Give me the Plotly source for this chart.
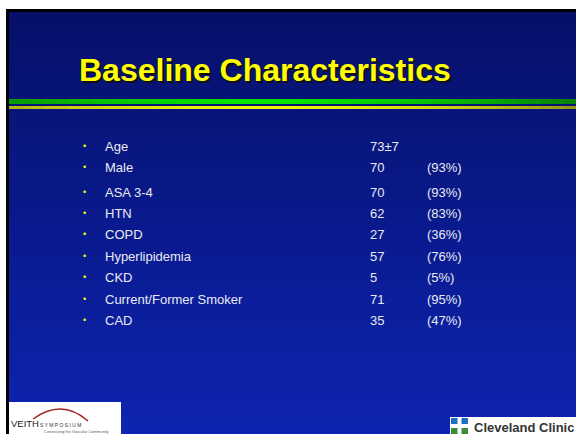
import plotly.graph_objects as go

# ---- data ----
labels = ["Age", "Male", "ASA 3-4", "HTN", "COPD", "Hyperlipidemia", "CKD",
          "Current/Former Smoker", "CAD"]
counts = ["73±7", "70", "70", "62", "27", "57", "5", "71", "35"]
percents = ["", "(93%)", "(93%)", "(83%)", "(36%)", "(76%)", "(5%)", "(95%)", "(47%)"]
row_y = [146, 167, 192, 213, 234, 256, 277, 299, 320]
title = "Baseline Characteristics"

W, H = 576, 434
fig = go.Figure()
shapes = []
ann = []

def lerp(a, b, t):
    return tuple(int(round(a[k] + (b[k] - a[k]) * t)) for k in range(3))

# background gradient (navy -> brighter blue)
x0, y0 = 9, 12
n = 50
top = (6, 16, 106)
bot = (13, 36, 176)
for i in range(n):
    t = i / (n - 1)
    c = lerp(top, bot, t)
    ya = y0 + (H - y0) * i / n
    yb = y0 + (H - y0) * (i + 1) / n + 1.5
    shapes.append(dict(type="rect", x0=x0, x1=W + 2, y0=ya, y1=min(yb, H + 2), line_width=0,
                       fillcolor="rgb(%d,%d,%d)" % c, layer="below"))
# black border
shapes.append(dict(type="rect", x0=6, x1=9, y0=9, y1=H + 2, line_width=0, fillcolor="black", layer="below"))
shapes.append(dict(type="rect", x0=6, x1=W + 2, y0=9, y1=12, line_width=0, fillcolor="black", layer="below"))

# green / yellow gradient bars
segs = 48
for i in range(segs):
    t = i / (segs - 1)
    d = abs(t - 0.45) / 0.55
    g = lerp((0, 230, 0), (10, 130, 10), min(1, d) ** 1.5)
    yl = lerp((240, 240, 0), (150, 150, 20), min(1, d) ** 2)
    xa = 9 + (W - 9) * i / segs
    xb = 9 + (W - 9) * (i + 1) / segs + 1.5
    shapes.append(dict(type="rect", x0=xa, x1=xb, y0=99, y1=104, line_width=0,
                       fillcolor="rgb(%d,%d,%d)" % g, layer="below"))
    shapes.append(dict(type="rect", x0=xa, x1=xb, y0=106, y1=109, line_width=0,
                       fillcolor="rgb(%d,%d,%d)" % yl, layer="below"))

# title with shadow
tx, ty = 265, 70
ann.append(dict(x=tx + 2, y=ty + 2, text="<b>%s</b>" % title, showarrow=False,
                xanchor="center", yanchor="middle",
                font=dict(family="Liberation Sans, Arial", size=32, color="#101010")))
ann.append(dict(x=tx, y=ty, text="<b>%s</b>" % title, showarrow=False,
                xanchor="center", yanchor="middle",
                font=dict(family="Liberation Sans, Arial", size=32, color="#FFFF00")))

# list
txtc = "#EAEAF2"
for lab, cnt, pct, yy in zip(labels, counts, percents, row_y):
    ann.append(dict(x=84, y=yy, text="•", showarrow=False, xanchor="center", yanchor="middle",
                    font=dict(family="Liberation Sans, Arial", size=9, color="#FFFF00")))
    ann.append(dict(x=103, y=yy, text=lab, showarrow=False, xanchor="left", yanchor="middle",
                    font=dict(family="Liberation Sans, Arial", size=13, color=txtc)))
    ann.append(dict(x=368, y=yy, text=cnt, showarrow=False, xanchor="left", yanchor="middle",
                    font=dict(family="Liberation Sans, Arial", size=13, color=txtc)))
    if pct:
        ann.append(dict(x=425, y=yy, text=pct, showarrow=False, xanchor="left", yanchor="middle",
                        font=dict(family="Liberation Sans, Arial", size=13, color=txtc)))

# Veith logo
shapes.append(dict(type="rect", x0=9, x1=121, y0=402, y1=H + 2, line_width=0, fillcolor="white", layer="above"))
shapes.append(dict(type="path", path="M 33 419 Q 62 398 88 421", line=dict(color="#A02020", width=1.5), layer="above"))
ann.append(dict(x=9, y=423, text="VEITH", showarrow=False, xanchor="left", yanchor="middle",
                font=dict(family="Liberation Sans, Arial", size=9.5, color="#202020")))
ann.append(dict(x=38, y=425, text="S Y M P O S I U M", showarrow=False, xanchor="left", yanchor="middle",
                font=dict(family="Liberation Sans", size=5, color="#303030")))
ann.append(dict(x=42, y=431, text="Connecting the Vascular Community", showarrow=False, xanchor="left", yanchor="middle",
                font=dict(family="Liberation Sans", size=4, color="#606060")))

# Cleveland Clinic logo
shapes.append(dict(type="rect", x0=450, x1=W + 2, y0=417, y1=H + 2, line_width=0, fillcolor="white", layer="above"))
shapes.append(dict(type="rect", x0=451, x1=468, y0=418, y1=426, line_width=0, fillcolor="#1F6FC0", layer="above"))
shapes.append(dict(type="rect", x0=451, x1=468, y0=426, y1=434, line_width=0, fillcolor="#3C8C3C", layer="above"))
shapes.append(dict(type="rect", x0=457.5, x1=461.5, y0=418, y1=434, line_width=0, fillcolor="white", layer="above"))
shapes.append(dict(type="rect", x0=451, x1=468, y0=424, y1=428, line_width=0, fillcolor="white", layer="above"))
ann.append(dict(x=472, y=427, text="<b>Cleveland Clinic</b>", showarrow=False, xanchor="left", yanchor="middle",
                font=dict(family="Liberation Sans Narrow, Liberation Sans", size=13, color="#333333")))

fig.update_layout(
    width=W, height=H, margin=dict(l=0, r=0, t=0, b=0),
    paper_bgcolor="white", plot_bgcolor="white",
    xaxis=dict(range=[0, W], visible=False, fixedrange=True),
    yaxis=dict(range=[H, 0], visible=False, fixedrange=True),
    shapes=shapes, annotations=ann, showlegend=False,
)
fig.write_html("out.html", config={"displayModeBar": False},
               post_script="document.body.style.margin='0';document.body.style.overflow='hidden';")
